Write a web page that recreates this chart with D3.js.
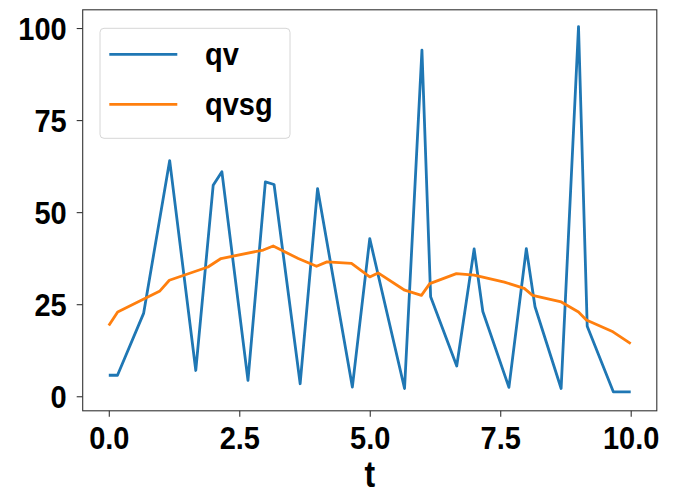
<!DOCTYPE html>
<html>
<head>
<meta charset="utf-8">
<script src="https://cdn.jsdelivr.net/npm/d3@7"></script>
<style>
  html, body { margin: 0; padding: 0; background: #fff; }
  svg { display: block; }
  text { font-family: "Liberation Sans", Arial, sans-serif; font-weight: bold; fill: #000; }
</style>
</head>
<body>
<svg id="chart" width="677" height="495"></svg>
<script>
// ---- data ----
const qvT = [0, 1/6, 2/3, 7/6, 5/3, 2, 13/6, 8/3, 3, 19/6, 11/3, 4, 14/3, 5, 17/3, 6, 37/6, 20/3, 7, 43/6, 23/3, 8, 49/6, 26/3, 9, 55/6, 29/3, 10];
const qv  = [5.7, 5.7, 22.5, 64, 7, 57.3, 61, 4.3, 58.2, 57.5, 3.4, 56.4, 2.5, 42.8, 2.1, 94, 27, 8.2, 40, 23, 2.4, 40.1, 24.3, 2.1, 100.4, 19, 1.2, 1.2];

const qvsgT = [0, 0.17, 0.98, 1.16, 1.9, 2.15, 2.96, 3.15, 3.63, 3.98, 4.18, 4.65, 5.0, 5.16, 5.67, 5.99, 6.15, 6.66, 7.0, 7.58, 7.96, 8.12, 8.67, 9.0, 9.15, 9.66, 10];
const qvsg  = [19.2, 22.9, 28.6, 31.5, 35.1, 37.4, 39.7, 40.8, 37.4, 35.3, 36.5, 36.1, 32.4, 33.5, 28.8, 27.4, 30.6, 33.3, 32.9, 31, 29.3, 27.4, 25.6, 22.9, 20.7, 17.5, 14.3];

const xTicks = [0, 2.5, 5, 7.5, 10];
const yTicks = [0, 25, 50, 75, 100];
const seriesNames = ["qv", "qvsg"];
const seriesColors = ["#1f77b4", "#ff7f0e"];
const xLabel = "t";

// ---- layout ----
const svg = d3.select("#chart");
const L = 82.7, R = 656.8, T = 9.8, B = 410.8;
const FS = 29, SY = 1.1;

const x = d3.scaleLinear().domain([-0.5, 10.5]).range([L, R]);
const y = d3.scaleLinear().domain([-3.95, 104.95]).range([B, T]);

// lines
const series = [
  {name: seriesNames[0], t: qvT, v: qv, color: seriesColors[0]},
  {name: seriesNames[1], t: qvsgT, v: qvsg, color: seriesColors[1]}
];
const line = d3.line().x(d => x(d[0])).y(d => y(d[1]));
svg.append("defs").append("clipPath").attr("id", "clip")
  .append("rect").attr("x", L).attr("y", T).attr("width", R - L).attr("height", B - T);
series.forEach(s => {
  svg.append("path")
    .datum(s.t.map((t, i) => [t, s.v[i]]))
    .attr("d", line)
    .attr("fill", "none")
    .attr("stroke", s.color)
    .attr("stroke-width", 2.8)
    .attr("stroke-linejoin", "round")
    .attr("clip-path", "url(#clip)");
});

// axes
const xAxis = d3.axisBottom(x).tickValues(xTicks).tickFormat(d3.format(".1f")).tickSize(6).tickSizeOuter(0);
const yAxis = d3.axisLeft(y).tickValues(yTicks).tickFormat(d3.format("d")).tickSize(6).tickSizeOuter(0);

const gx = svg.append("g").attr("transform", `translate(0,${B})`).call(xAxis);
gx.select(".domain").remove();
gx.selectAll(".tick line").attr("stroke", "#333").attr("stroke-width", 1.1);
gx.selectAll(".tick text")
  .attr("y", null).attr("dy", null)
  .attr("transform", `translate(0,38.5) scale(1,${SY})`)
  .style("font-size", FS + "px").style("font-family", '"Liberation Sans", Arial, sans-serif').style("font-weight", "bold").attr("fill", "#000");

const gy = svg.append("g").attr("transform", `translate(${L},0)`).call(yAxis);
gy.select(".domain").remove();
gy.selectAll(".tick line").attr("stroke", "#333").attr("stroke-width", 1.1);
gy.selectAll(".tick text")
  .attr("x", -16).attr("dy", null)
  .attr("transform", `translate(0,${0.716 * FS * SY / 2}) scale(1,${SY})`)
  .style("font-size", FS + "px").style("font-family", '"Liberation Sans", Arial, sans-serif').style("font-weight", "bold").attr("fill", "#000");

// frame
svg.append("rect").attr("x", L).attr("y", T).attr("width", R - L).attr("height", B - T)
  .attr("fill", "none").attr("stroke", "#333").attr("stroke-width", 1.1);

// x label
svg.append("text")
  .attr("transform", `translate(${(L + R) / 2},487) scale(1,1.15)`)
  .attr("text-anchor", "middle")
  .style("font-size", "32px")
  .text(xLabel);

// legend
const lg = svg.append("g");
lg.append("rect").attr("x", 100).attr("y", 28.3).attr("width", 190).attr("height", 110)
  .attr("rx", 4).attr("fill", "#fff").attr("fill-opacity", 0.8)
  .attr("stroke", "#d6d6d6").attr("stroke-width", 1);
const legY = [54.3, 104.3];
series.forEach((s, i) => {
  lg.append("line").attr("x1", 109.3).attr("x2", 177.3).attr("y1", legY[i]).attr("y2", legY[i])
    .attr("stroke", s.color).attr("stroke-width", 2.8);
  lg.append("text")
    .attr("transform", `translate(205,${legY[i] + 11}) scale(1,${SY})`)
    .style("font-size", FS + "px")
    .text(s.name);
});
</script>
</body>
</html>
